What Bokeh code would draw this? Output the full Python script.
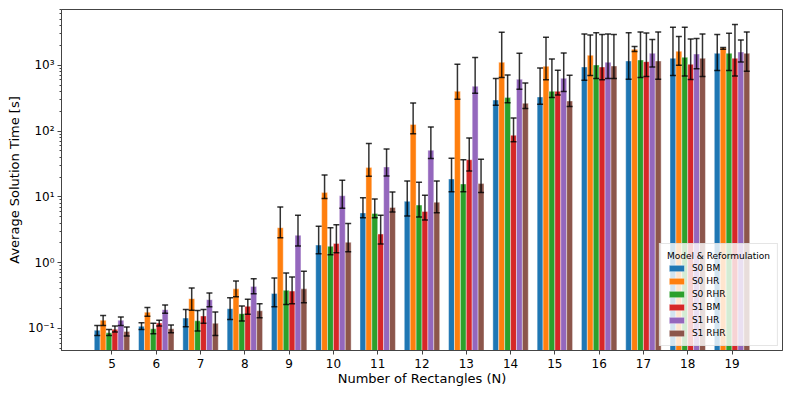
from bokeh.plotting import figure
from bokeh.models import (ColumnDataSource, Range1d, FixedTicker, CustomJSTickFormatter,
                          Whisker, TeeHead, Legend, LegendItem)
from bokeh.embed import file_html
from bokeh.resources import INLINE

# ---- data ----
n_rect = [5, 6, 7, 8, 9, 10, 11, 12, 13, 14, 15, 16, 17, 18, 19]
series_names = ["S0 BM", "S0 HR", "S0 RHR", "S1 BM", "S1 HR", "S1 RHR"]
series_colors = ["#1f77b4", "#ff7f0e", "#2ca02c", "#d62728", "#9467bd", "#8c564b"]

s0_bm = [0.094, 0.108, 0.144, 0.20, 0.34, 1.85, 5.7, 8.55, 18.7, 296, 329, 940, 1159, 1273, 1516]
s0_bm_lo = [0.0785, 0.0969, 0.106, 0.1375, 0.214, 1.37, 4.83, 5.11, 12.0, 246, 255, 590, 611, 695, 828]
s0_bm_hi = [0.111, 0.1225, 0.195, 0.294, 0.583, 3.56, 9.7, 17.4, 38.5, 626, 906, 2978, 3126, 3767, 2917]

s0_hr = [0.133, 0.177, 0.284, 0.40, 3.40, 11.6, 27.8, 126, 401, 1107, 962, 1414, 1745, 1626, 1825]
s0_hr_lo = [0.111, 0.154, 0.19, 0.304, 2.4, 9.4, 20.5, 91.3, 303, 648, 600, 700, 1610, 996, 1745]
s0_hr_hi = [0.158, 0.209, 0.411, 0.525, 7.0, 21.4, 64.4, 267, 1032, 3162, 2655, 2877, 1918, 2722, 1852]

s0_rhr = [0.086, 0.099, 0.131, 0.168, 0.38, 1.77, 5.6, 7.5, 15.7, 322, 401, 1007, 1200, 1318, 1516]
s0_rhr_lo = [0.0785, 0.0834, 0.0914, 0.13, 0.232, 1.32, 4.83, 4.93, 12.0, 270, 322, 626, 648, 686, 828]
s0_rhr_hi = [0.0969, 0.120, 0.188, 0.219, 0.695, 3.40, 9.27, 16.6, 36.7, 710, 1242, 3126, 3198, 3767, 3055]

s1_bm = [0.097, 0.121, 0.155, 0.217, 0.37, 1.96, 2.72, 6.0, 36.7, 86, 401, 940, 1133, 1032, 1273]
s1_bm_lo = [0.0882, 0.109, 0.12, 0.164, 0.238, 1.42, 1.92, 4.44, 24.7, 69, 352, 600, 671, 604, 686]
s1_bm_hi = [0.109, 0.133, 0.195, 0.277, 0.604, 3.78, 5.24, 10.6, 78.3, 158, 836, 2917, 3084, 2500, 4140]

s1_hr = [0.133, 0.193, 0.274, 0.436, 2.6, 10.4, 28.4, 51, 478, 611, 631, 1107, 1516, 1479, 1587]
s1_hr_lo = [0.111, 0.170, 0.214, 0.338, 1.79, 6.7, 20.7, 38.1, 374, 430, 397, 626, 940, 887, 1119]
s1_hr_hi = [0.149, 0.227, 0.345, 0.571, 5.24, 17.8, 53.2, 115, 1305, 1517, 1532, 2978, 2449, 2535, 2415]

s1_rhr = [0.09, 0.099, 0.12, 0.186, 0.40, 2.04, 6.9, 8.3, 15.9, 264, 286, 973, 1159, 1273, 1516]
s1_rhr_lo = [0.0767, 0.0863, 0.0785, 0.146, 0.247, 1.47, 5.87, 5.75, 11.6, 219, 235, 626, 611, 671, 807]
s1_rhr_hi = [0.105, 0.1127, 0.178, 0.238, 0.738, 3.95, 11.8, 17.4, 37.2, 537, 703, 2917, 3198, 2978, 3198]

y_major_ticks = [0.1, 1, 10, 100, 1000]

values = [s0_bm, s0_hr, s0_rhr, s1_bm, s1_hr, s1_rhr]
lows = [s0_bm_lo, s0_hr_lo, s0_rhr_lo, s1_bm_lo, s1_hr_lo, s1_rhr_lo]
highs = [s0_bm_hi, s0_hr_hi, s0_rhr_hi, s1_bm_hi, s1_hr_hi, s1_rhr_hi]

FONT = "DejaVu Sans"

p = figure(width=784, height=389, y_axis_type="log",
           x_range=Range1d(3.86, 20.14), y_range=Range1d(0.0463, 7020),
           output_backend="svg", toolbar_location=None,
           min_border_left=61, min_border_right=2, min_border_top=9, min_border_bottom=39)

group_width = 0.8
bw = group_width / len(series_names)
items = []
for j, (name, col) in enumerate(zip(series_names, series_colors)):
    off = (j - (len(series_names) - 1) / 2) * bw
    xs = [n + off for n in n_rect]
    src = ColumnDataSource(dict(x=xs, top=values[j]))
    r = p.vbar(x="x", top="top", bottom=1e-4, width=bw, source=src,
               fill_color=col, line_color="white", line_width=0.6, line_alpha=0.7)
    items.append(LegendItem(label=name, renderers=[r]))
for j in range(len(series_names)):
    off = (j - (len(series_names) - 1) / 2) * bw
    xs = [n + off for n in n_rect]
    src = ColumnDataSource(dict(x=xs, lo=lows[j], hi=highs[j]))
    w = Whisker(source=src, base="x", lower="lo", upper="hi", dimension="height",
                level="overlay",
                line_color="black", line_alpha=0.8, line_width=1.5,
                upper_head=TeeHead(size=6, line_color="black", line_alpha=0.8, line_width=1.5),
                lower_head=TeeHead(size=6, line_color="black", line_alpha=0.8, line_width=1.5))
    p.add_layout(w)

legend = Legend(items=items, location="bottom_right", title="Model & Reformulation",
                title_text_font=FONT, title_text_font_size="9px", title_text_font_style="normal",
                title_text_color="black",
                label_text_font=FONT, label_text_font_size="9px", label_text_color="black",
                glyph_width=19, glyph_height=8, label_height=11, spacing=2,
                padding=7, margin=4, title_standoff=1, label_standoff=6,
                background_fill_alpha=0.8, border_line_color="#cccccc", border_line_width=1)
legend.level = "overlay"
p.add_layout(legend)

# axes
p.xgrid.visible = False
p.ygrid.visible = False
p.outline_line_color = "#444444"
p.outline_line_width = 1

p.xaxis.ticker = FixedTicker(ticks=n_rect)
p.xaxis.axis_label = "Number of Rectangles (N)"

minor = []
for e in range(-2, 4):
    for k in range(2, 10):
        minor.append(k * 10.0 ** e)
p.yaxis.ticker = FixedTicker(ticks=y_major_ticks, minor_ticks=minor)
p.yaxis.formatter = CustomJSTickFormatter(code="""
const sup = {'-':'\u207b','0':'\u2070','1':'\u00b9','2':'\u00b2','3':'\u00b3','4':'\u2074','5':'\u2075','6':'\u2076','7':'\u2077','8':'\u2078','9':'\u2079'};
const e = Math.round(Math.log10(tick));
return '10' + String(e).split('').map(c => sup[c]).join('');
""")
p.yaxis.axis_label = "Average Solution Time [s]"

for ax in (p.xaxis, p.yaxis):
    ax.axis_line_color = "#444444"
    ax.major_tick_line_color = "#444444"
    ax.major_tick_out = 4
    ax.major_tick_in = 0
    ax.minor_tick_out = 2
    ax.minor_tick_in = 0
    ax.major_label_text_font = FONT
    ax.major_label_text_font_size = "12px"
    ax.major_label_text_color = "black"
    ax.axis_label_text_font = FONT
    ax.axis_label_text_font_size = "13px"
    ax.axis_label_text_font_style = "normal"
    ax.axis_label_text_color = "black"
p.xaxis.major_label_standoff = 4
p.xaxis.axis_label_standoff = 0
p.yaxis.major_label_standoff = 3
p.yaxis.axis_label_standoff = 3
p.xaxis.minor_tick_line_color = None
p.yaxis.minor_tick_line_color = "#444444"

p.background_fill_color = "white"
p.border_fill_color = "white"

open("out.html", "w").write(file_html(p, INLINE))
